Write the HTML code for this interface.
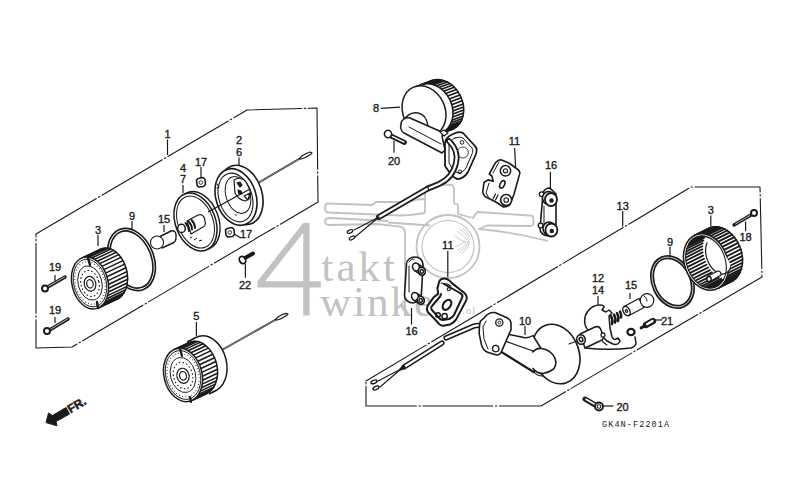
<!DOCTYPE html><html><head><meta charset="utf-8"><style>html,body{margin:0;padding:0;background:#fff;width:800px;height:500px;overflow:hidden;position:relative}</style></head><body><svg width="800" height="500" viewBox="0 0 800 500" style="position:absolute;left:0;top:0">
<rect width="800" height="500" fill="#fff"/>
<g fill="none" stroke="#c2c2c2" stroke-width="1.8" stroke-linejoin="round">
<circle cx="448" cy="246.5" r="31.5"/><circle cx="448" cy="246.5" r="26" stroke-width="1.2"/>
<path d="M457 231q7 5 12 10M460 229q6 5 10 11M463 228q4 4 7 9M457 251q7-4 12-10M459 253q7-5 11-12M462 254q5-5 8-11M455 236q6 4 11 7M455 247q6-3 11-6" stroke-width="0.8"/>
<path d="M328 203.5L372 205L376 202L408 202L418 199.5L425 199M425 213V191C425 186 430 184 437 184L452 185C454 186 454 188 454 190V203L458 205V214L473 218L477 212L530 215.5c2 0 3.5 1.5 3.5 3.5v3.5c0 2-1.5 3.5-3.5 3.5L487 225.5L479 229C502 231 525 235 548 241"/>
<path d="M328 203.5c-2 0-3 2-3 4.5s1 4.5 3 4.5L400 215.5L410 215L425 213"/>
<path d="M330 218c-3 0-5 1.5-5 3.5s2 3.5 5 3.5L377 224L400 226.6Q405 228 405 232V315M330 218L388 221M388 222.5L430 225.5"/>
</g>
<path fill="#c2c2c2" fill-rule="evenodd" d="M303.2 223H309.6V281.2H320.8V287.6H309.6V315.5H303.2V287.6H257.5V281.2ZM303.2 232.7V281.2H265.1Z"/>
<text x="321.5" y="281" font-family="Liberation Serif" font-size="43" fill="#c2c2c2" letter-spacing="3">takt</text>
<text x="320" y="316" font-family="Liberation Serif" font-size="43" fill="#c2c2c2" letter-spacing="2">winkel</text>
<text x="462" y="314" font-family="Liberation Serif" font-size="11" fill="#c2c2c2" letter-spacing="1">.nl</text>
<polyline points="36,234 247,110 317,108 318,202 72,347 36,348 36,234" fill="none" stroke="#1a1a1a" stroke-width="1.1" stroke-linejoin="round" stroke-linecap="round" stroke-dasharray="70 2.5 1.5 2.5"/>
<polyline points="366,381 691,187 760,187 762,277 541,406 366,406 366,381" fill="none" stroke="#1a1a1a" stroke-width="1.1" stroke-linejoin="round" stroke-linecap="round" stroke-dasharray="70 2.5 1.5 2.5"/>
<g font-family="Liberation Sans" fill="#1a1a1a">
</g>
<path d="M258 183L299 159" fill="none" stroke="#1a1a1a" stroke-width="2" stroke-linejoin="round" stroke-linecap="round" />
<path d="M259 182.4L299 159" fill="none" stroke="#fff" stroke-width="0.5" stroke-linejoin="round" stroke-linecap="round" />
<path d="M299 159l3-3c2-1.5 5-3 8-4l2 1l-1.5 1.5c-3 2-6 3.5-9 4.5z" fill="#fff" stroke="#1a1a1a" stroke-width="1.2" stroke-linejoin="round" stroke-linecap="round" />
<ellipse cx="241" cy="195" rx="21" ry="30.5" transform="rotate(-18 241 195)" fill="#fff" stroke="#1a1a1a" stroke-width="1.6" />
<ellipse cx="236" cy="197" rx="20" ry="29" transform="rotate(-18 236 197)" fill="#fff" stroke="#1a1a1a" stroke-width="1.6" />
<ellipse cx="235.5" cy="197.5" rx="16.5" ry="25" transform="rotate(-18 235.5 197.5)" fill="#fff" stroke="#1a1a1a" stroke-width="1.1" />
<ellipse cx="238" cy="195" rx="12" ry="19" transform="rotate(-18 238 195)" fill="none" stroke="#1a1a1a" stroke-width="1" />
<path d="M234 180c4-3 9-2 12 2l3 6c2 4 2 8 0 11l-4 2c-4-1-8-4-10-8z" fill="#fff" stroke="#1a1a1a" stroke-width="1.2" stroke-linejoin="round" stroke-linecap="round" />
<path d="M237 183l3-1l2 3l-2 2zM238 190l3 1l1 3l-3 0z" fill="#1a1a1a" stroke="#1a1a1a" stroke-width="1.1" stroke-linejoin="round" stroke-linecap="round" />
<path d="M244 196l6-3l-2 7z" fill="none" stroke="#1a1a1a" stroke-width="1.2" stroke-linejoin="round" stroke-linecap="round" />
<path d="M217 184l2 3l-2 1" fill="none" stroke="#1a1a1a" stroke-width="1.1" stroke-linejoin="round" stroke-linecap="round" />
<circle cx="236" cy="215" r="0.8" fill="#1a1a1a"/>
<ellipse cx="203" cy="218" rx="8" ry="12" transform="rotate(-21 203 218)" fill="#fff" stroke="#1a1a1a" stroke-width="1.4" />
<ellipse cx="198.5" cy="220.5" rx="20" ry="30" transform="rotate(-21 198.5 220.5)" fill="#fff" stroke="#1a1a1a" stroke-width="1.4" />
<ellipse cx="195.5" cy="222" rx="20" ry="30" transform="rotate(-21 195.5 222)" fill="#fff" stroke="#1a1a1a" stroke-width="1.5" />
<ellipse cx="195.5" cy="222" rx="17.5" ry="27" transform="rotate(-21 195.5 222)" fill="none" stroke="#1a1a1a" stroke-width="1" />
<path d="M187 221l11-6c3-1 5 0 6 2l1 4c1 3 0 5-2 6l-12 7z" fill="#fff" stroke="#1a1a1a" stroke-width="1.2" stroke-linejoin="round" stroke-linecap="round" />
<path d="M185.5 223c2 2 3.5 5 3.5 8M188.5 221.5c2 2 3.5 5 3.5 8M191.5 220c2 2 3.5 5 3.5 8" fill="none" stroke="#1a1a1a" stroke-width="1.9" stroke-linejoin="round" stroke-linecap="round" />
<ellipse cx="181.5" cy="228.4" rx="3.8" ry="4.2" transform="rotate(0 181.5 228.4)" fill="#fff" stroke="#1a1a1a" stroke-width="1.5" />
<path d="M190 238l2-1M194 240l3-2M199 241l3-1" stroke="#1a1a1a" stroke-width="1"/>
<line x1="208" y1="212" x2="250" y2="189" stroke="#1a1a1a" stroke-width="1.2" />
<path d="M159 237l12-6c3-1 5 1 5 4v3c0 2-1 4-3 5l-11 5" fill="#fff" stroke="#1a1a1a" stroke-width="1.4" stroke-linejoin="round" stroke-linecap="round" />
<circle cx="157" cy="242.5" r="6.5" fill="#fff" stroke="#1a1a1a" stroke-width="1.1"/>
<ellipse cx="131.5" cy="259.5" rx="21" ry="31" transform="rotate(-22 131.5 259.5)" fill="none" stroke="#1a1a1a" stroke-width="4.1" />
<ellipse cx="131.5" cy="259.5" rx="21" ry="31" transform="rotate(-22 131.5 259.5)" fill="none" stroke="#fff" stroke-width="0.9" />
<ellipse cx="109" cy="274" rx="18" ry="26.4" transform="rotate(-14 109 274)" fill="#fff" stroke="#1a1a1a" stroke-width="1.5" />
<polygon points="99,307.6 118,298.6 100,249.4 81,258.4" fill="#fff" stroke="none" stroke-width="0" stroke-linejoin="round" />
<line x1="99" y1="307.6" x2="118" y2="298.6" stroke="#1a1a1a" stroke-width="1.5" />
<line x1="81" y1="258.4" x2="100" y2="249.4" stroke="#1a1a1a" stroke-width="1.5" />
<path d="M107.9 280.6l19 -9M108.4 284.5l19 -9M108.6 288.3l19 -9M108.3 292l19 -9M107.6 295.6l19 -9M106.6 298.8l19 -9M105.1 301.7l19 -9M103.3 304.2l19 -9M101.3 306.2l19 -9M98.9 307.7l19 -9M83.6 257.4l19 -9M86.3 257l19 -9M89 257.2l19 -9M91.8 258l19 -9M94.6 259.4l19 -9M97.2 261.3l19 -9M99.7 263.6l19 -9M101.9 266.4l19 -9M103.9 269.6l19 -9M105.6 273.1l19 -9M106.9 276.7l19 -9" fill="none" stroke="#1a1a1a" stroke-width="1.5" stroke-linejoin="round" stroke-linecap="round" />
<ellipse cx="90" cy="283" rx="18" ry="26.4" transform="rotate(-14 90 283)" fill="#fff" stroke="#1a1a1a" stroke-width="1.5" />
<ellipse cx="90" cy="283" rx="16.2" ry="24.2" transform="rotate(-14 90 283)" fill="none" stroke="#1a1a1a" stroke-width="0.9" />
<ellipse cx="90" cy="283" rx="14.8" ry="21.6" transform="rotate(-14 90 283)" fill="none" stroke="#1a1a1a" stroke-width="1.1" stroke-dasharray="0.8 2.4"/>
<ellipse cx="90" cy="283" rx="11.9" ry="17.4" transform="rotate(-14 90 283)" fill="none" stroke="#1a1a1a" stroke-width="0.9" />
<ellipse cx="90" cy="283.5" rx="9" ry="13.2" transform="rotate(-14 90 283.5)" fill="none" stroke="#1a1a1a" stroke-width="1.1" stroke-dasharray="1.6 2.2"/>
<ellipse cx="90" cy="283.8" rx="5.8" ry="7.4" transform="rotate(-14 90 283.8)" fill="none" stroke="#1a1a1a" stroke-width="1.2" />
<ellipse cx="90" cy="283.8" rx="3.2" ry="4.2" transform="rotate(-14 90 283.8)" fill="none" stroke="#1a1a1a" stroke-width="1.2" />
<path d="M88 258l2 7M97 302l1 6" fill="none" stroke="#1a1a1a" stroke-width="2.5" stroke-linejoin="round" stroke-linecap="round" />
<path d="M198 178.5l5-1l2 2l0.5 5l-2 2l-5 0.5l-1.5-2l-0.5-5z" fill="#fff" stroke="#1a1a1a" stroke-width="1.6" stroke-linejoin="round" stroke-linecap="round" />
<circle cx="200.8" cy="182.5" r="1.8" fill="none" stroke="#1a1a1a" stroke-width="0.9"/>
<path d="M227 228.5l5-1l2 2l0.5 5l-2 2l-5 0.5l-1.5-2l-0.5-5z" fill="#fff" stroke="#1a1a1a" stroke-width="1.6" stroke-linejoin="round" stroke-linecap="round" />
<circle cx="229.8" cy="232.5" r="1.8" fill="none" stroke="#1a1a1a" stroke-width="0.9"/>
<path d="M245 258l8-4.5" fill="none" stroke="#1a1a1a" stroke-width="4" stroke-linejoin="round" stroke-linecap="round" />
<ellipse cx="242.5" cy="260" rx="3" ry="3.8" transform="rotate(-30 242.5 260)" fill="#fff" stroke="#1a1a1a" stroke-width="1.8" />
<path d="M46 288l19-11" fill="none" stroke="#1a1a1a" stroke-width="3.5" stroke-linejoin="round" stroke-linecap="round" />
<path d="M47.5 287l17-10" fill="none" stroke="#fff" stroke-width="0.7" stroke-linejoin="round" stroke-linecap="round" />
<ellipse cx="45" cy="288.5" rx="3" ry="3" transform="rotate(0 45 288.5)" fill="#fff" stroke="#1a1a1a" stroke-width="1.9" />
<path d="M48 331l20-12" fill="none" stroke="#1a1a1a" stroke-width="3.5" stroke-linejoin="round" stroke-linecap="round" />
<path d="M49.5 330l18-11" fill="none" stroke="#fff" stroke-width="0.7" stroke-linejoin="round" stroke-linecap="round" />
<ellipse cx="47" cy="331" rx="3" ry="3" transform="rotate(0 47 331)" fill="#fff" stroke="#1a1a1a" stroke-width="1.9" />
<path d="M221 350.5L275 320" fill="none" stroke="#1a1a1a" stroke-width="1.9" stroke-linejoin="round" stroke-linecap="round" />
<path d="M222 350L275 320" fill="none" stroke="#fff" stroke-width="0.5" stroke-linejoin="round" stroke-linecap="round" />
<path d="M275 320l3-3c2-1.5 5-3 8-3.6l2 0.6l-1.5 1.5c-3 2-6 3.5-9 4.5z" fill="#fff" stroke="#1a1a1a" stroke-width="1.2" stroke-linejoin="round" stroke-linecap="round" />
<ellipse cx="206" cy="364" rx="20.5" ry="28.5" transform="rotate(-14 206 364)" fill="#fff" stroke="#1a1a1a" stroke-width="1.5" />
<polygon points="208.9,394 216.9,390 195.1,338 187.1,342" fill="#fff" stroke="none" stroke-width="0" stroke-linejoin="round" />
<line x1="208.9" y1="394" x2="216.9" y2="390" stroke="#1a1a1a" stroke-width="1.5" />
<line x1="187.1" y1="342" x2="195.1" y2="338" stroke="#1a1a1a" stroke-width="1.5" />
<path d="" fill="none" stroke="#1a1a1a" stroke-width="0" stroke-linejoin="round" stroke-linecap="round" />
<ellipse cx="198" cy="368" rx="19" ry="27" transform="rotate(-14 198 368)" fill="#fff" stroke="#1a1a1a" stroke-width="1.5" />
<polygon points="192.3,400.2 207.3,393.2 188.7,342.8 173.7,349.8" fill="#fff" stroke="none" stroke-width="0" stroke-linejoin="round" />
<line x1="192.3" y1="400.2" x2="207.3" y2="393.2" stroke="#1a1a1a" stroke-width="1.5" />
<line x1="173.7" y1="349.8" x2="188.7" y2="342.8" stroke="#1a1a1a" stroke-width="1.5" />
<path d="M201.9 372.4l15 -7M202.4 376.3l15 -7M202.5 380.3l15 -7M202.2 384.1l15 -7M201.5 387.7l15 -7M200.3 391.1l15 -7M198.8 394.1l15 -7M196.9 396.6l15 -7M194.7 398.7l15 -7M192.2 400.2l15 -7M176.5 348.8l15 -7M179.3 348.4l15 -7M182.2 348.6l15 -7M185.1 349.4l15 -7M188 350.8l15 -7M190.8 352.7l15 -7M193.3 355.1l15 -7M195.7 357.9l15 -7M197.8 361.2l15 -7M199.5 364.7l15 -7M200.9 368.5l15 -7" fill="none" stroke="#1a1a1a" stroke-width="1.5" stroke-linejoin="round" stroke-linecap="round" />
<ellipse cx="183" cy="375" rx="19" ry="27" transform="rotate(-14 183 375)" fill="#fff" stroke="#1a1a1a" stroke-width="1.5" />
<ellipse cx="183" cy="375" rx="17.2" ry="24.8" transform="rotate(-14 183 375)" fill="none" stroke="#1a1a1a" stroke-width="0.9" />
<ellipse cx="183" cy="375" rx="15.6" ry="22.1" transform="rotate(-14 183 375)" fill="none" stroke="#1a1a1a" stroke-width="1.1" stroke-dasharray="0.8 2.4"/>
<ellipse cx="183" cy="375" rx="12.5" ry="17.8" transform="rotate(-14 183 375)" fill="none" stroke="#1a1a1a" stroke-width="0.9" />
<ellipse cx="183" cy="375.5" rx="9.5" ry="13.5" transform="rotate(-14 183 375.5)" fill="none" stroke="#1a1a1a" stroke-width="1.1" stroke-dasharray="1.6 2.2"/>
<ellipse cx="183" cy="375.8" rx="6.1" ry="7.6" transform="rotate(-14 183 375.8)" fill="none" stroke="#1a1a1a" stroke-width="1.2" />
<ellipse cx="183" cy="375.8" rx="3.4" ry="4.3" transform="rotate(-14 183 375.8)" fill="none" stroke="#1a1a1a" stroke-width="1.2" />
<path d="M180 349l2 7M190 397l1 5" fill="none" stroke="#1a1a1a" stroke-width="2.2" stroke-linejoin="round" stroke-linecap="round" />
<polygon points="46,422.6 48.5,413 52.5,415.5 66,407.5 69.5,414 56,421.5 57,425.8" fill="#1a1a1a" stroke="#1a1a1a" stroke-width="1" stroke-linejoin="round" />
<text x="0" y="0" font-family="Liberation Sans" font-weight="bold" font-size="12" fill="#1a1a1a" stroke="#1a1a1a" stroke-width="0.5" transform="translate(70.5 413.5) rotate(-31)">FR.</text>
<ellipse cx="442" cy="105" rx="20.5" ry="26.5" transform="rotate(-25 442 105)" fill="#fff" stroke="#1a1a1a" stroke-width="1.5" />
<polygon points="440.2,133.9 452.2,129.4 431.8,80.6 419.8,85.1" fill="#fff" stroke="none" stroke-width="0" stroke-linejoin="round" />
<line x1="440.2" y1="133.9" x2="452.2" y2="129.4" stroke="#1a1a1a" stroke-width="1.5" />
<line x1="419.8" y1="85.1" x2="431.8" y2="80.6" stroke="#1a1a1a" stroke-width="1.5" />
<path d="M449.2 102.3l12 -4.5M450.3 105.3l12 -4.5M451.1 108.4l12 -4.5M451.5 111.5l12 -4.5M451.7 114.5l12 -4.5M451.5 117.5l12 -4.5M451.1 120.4l12 -4.5M450.3 123.1l12 -4.5M449.2 125.6l12 -4.5M447.8 127.8l12 -4.5M446.2 129.9l12 -4.5M444.4 131.6l12 -4.5M442.3 133l12 -4.5M419.9 85l12 -4.5M422.3 84.3l12 -4.5M424.8 84l12 -4.5M427.4 84l12 -4.5M430 84.5l12 -4.5M432.6 85.3l12 -4.5M435.2 86.4l12 -4.5M437.7 87.9l12 -4.5M440.1 89.7l12 -4.5M442.3 91.7l12 -4.5M444.4 94.1l12 -4.5M446.3 96.6l12 -4.5M447.9 99.4l12 -4.5" fill="none" stroke="#1a1a1a" stroke-width="1.6" stroke-linejoin="round" stroke-linecap="round" />
<ellipse cx="431" cy="109" rx="21" ry="26" transform="rotate(-25 431 109)" fill="#fff" stroke="#1a1a1a" stroke-width="1.5" />
<polygon points="432.9,135.4 439.9,133.4 422.1,84.6 415.1,86.6" fill="#fff" stroke="none" stroke-width="0" stroke-linejoin="round" />
<line x1="432.9" y1="135.4" x2="439.9" y2="133.4" stroke="#1a1a1a" stroke-width="1.5" />
<line x1="415.1" y1="86.6" x2="422.1" y2="84.6" stroke="#1a1a1a" stroke-width="1.5" />
<path d="" fill="none" stroke="#1a1a1a" stroke-width="0" stroke-linejoin="round" stroke-linecap="round" />
<ellipse cx="424" cy="111" rx="21" ry="26" transform="rotate(-25 424 111)" fill="#fff" stroke="#1a1a1a" stroke-width="1.5" />
<path d="M404 121c2-6 8-9 14-8c6 1 9 6 10 13" fill="#fff" stroke="#1a1a1a" stroke-width="1.4" stroke-linejoin="round" stroke-linecap="round" />
<path d="M401 124c0-4 4-7 9-6l34 15l-2 3l3 14l-3 3l-38-20c-3-2-4-5-3-9z" fill="#fff" stroke="#1a1a1a" stroke-width="1.5" stroke-linejoin="round" stroke-linecap="round" />
<path d="M409 127l32 17" fill="none" stroke="#1a1a1a" stroke-width="1" stroke-linejoin="round" stroke-linecap="round" />
<path d="M440 132l4-2l4 3l-4 3z" fill="#fff" stroke="#1a1a1a" stroke-width="1.1" stroke-linejoin="round" stroke-linecap="round" />
<path d="M453 134c4-2 8-2 10-1l12 13c2 2 2 5 1 8l-8 18c-3 5-7 7-11 7l-5-3l-7-10v-22c0-4 3-8 8-10z" fill="#fff" stroke="#1a1a1a" stroke-width="1.8" stroke-linejoin="round" stroke-linecap="round" />
<path d="M455 138c3-1 6-1 8 0l9 10c1 2 1 4 0 6l-6 14c-2 3-5 5-8 5l-4-2l-5-8v-17c0-3 2-6 6-8z" fill="none" stroke="#1a1a1a" stroke-width="1" stroke-linejoin="round" stroke-linecap="round" />
<circle cx="462.8" cy="152.5" r="5.5" fill="none" stroke="#1a1a1a" stroke-width="0.8"/>
<circle cx="462" cy="142.4" r="1.8" fill="none" stroke="#1a1a1a" stroke-width="1"/>
<circle cx="460" cy="171.8" r="1.8" fill="none" stroke="#1a1a1a" stroke-width="1"/>
<path d="M449 141c6 6 9 14 7 22c-2 9-8 17-17 21l-12 5l-48 28" fill="none" stroke="#1a1a1a" stroke-width="5.8" stroke-linejoin="round" stroke-linecap="round" />
<path d="M449 141c6 6 9 14 7 22c-2 9-8 17-17 21l-12 5l-48 28" fill="none" stroke="#fff" stroke-width="2.4" stroke-linejoin="round" stroke-linecap="round" />
<path d="M427 186l2 4" fill="none" stroke="#1a1a1a" stroke-width="1.2" stroke-linejoin="round" stroke-linecap="round" />
<polyline points="379,217 354,230" fill="none" stroke="#1a1a1a" stroke-width="1.1" stroke-linejoin="round" stroke-linecap="round" />
<polyline points="379,217 355,237" fill="none" stroke="#1a1a1a" stroke-width="1.1" stroke-linejoin="round" stroke-linecap="round" />
<ellipse cx="350" cy="231.5" rx="3" ry="1.5" transform="rotate(-25 350 231.5)" fill="#fff" stroke="#1a1a1a" stroke-width="1.2" />
<ellipse cx="352" cy="238" rx="3" ry="1.5" transform="rotate(-30 352 238)" fill="#fff" stroke="#1a1a1a" stroke-width="1.2" />
<path d="M391 136l13.5 6.5" fill="none" stroke="#1a1a1a" stroke-width="4.8" stroke-linejoin="round" stroke-linecap="round" />
<path d="M392 136.4l12 5.8" fill="none" stroke="#fff" stroke-width="1.3" stroke-linejoin="round" stroke-linecap="round" />
<ellipse cx="388" cy="134" rx="3.6" ry="3.6" transform="rotate(20 388 134)" fill="#fff" stroke="#1a1a1a" stroke-width="1.6" />
<path d="M496.4 161.7c1.5-1.5 3-2 4.6-2l7.8 3.3l9.1 6.5c1.5 1 2 2.5 1.9 3.9l-5.8 20.8l-4 10.3c-2 2-4 2.5-6.4 2.5l-7.8-5l-10.4-5.2c-2-1.5-2.6-3-2.6-5.2l1.2-9.1l4-2.6l5.2 1.3l-1.3-5.2l-2.6-2l5.2-9.7z" fill="#fff" stroke="#1a1a1a" stroke-width="1.6" stroke-linejoin="round" stroke-linecap="round" />
<path d="M499 162l-6 11M489 183l-3 10l3 5M500 201l4 5" fill="none" stroke="#1a1a1a" stroke-width="1" stroke-linejoin="round" stroke-linecap="round" />
<circle cx="505.5" cy="170.8" r="5.2" fill="#fff" stroke="#1a1a1a" stroke-width="1.5"/><circle cx="505.5" cy="170.8" r="2.1" fill="none" stroke="#1a1a1a" stroke-width="1.1"/>
<circle cx="506.2" cy="200" r="5.5" fill="#fff" stroke="#1a1a1a" stroke-width="1.5"/><circle cx="506.2" cy="200" r="2.3" fill="none" stroke="#1a1a1a" stroke-width="1.1"/>
<ellipse cx="502.3" cy="184.4" rx="2.2" ry="4" transform="rotate(25 502.3 184.4)" fill="#fff" stroke="#1a1a1a" stroke-width="1.6" />
<path d="M493 199l2.5-5M495.5 200l2.5-5" fill="none" stroke="#1a1a1a" stroke-width="1.2" stroke-linejoin="round" stroke-linecap="round" />
<path d="M543 193c1-3 4-5 7-5l6 6v34c0 4-3 8-7 8c-5 0-9-3-9-7z" fill="#fff" stroke="#1a1a1a" stroke-width="1.6" stroke-linejoin="round" stroke-linecap="round" />
<circle cx="541.7" cy="194.3" r="2.4" fill="#fff" stroke="#1a1a1a" stroke-width="1.3"/><circle cx="540.6" cy="225.5" r="2.4" fill="#fff" stroke="#1a1a1a" stroke-width="1.3"/>
<ellipse cx="548.5" cy="198" rx="6" ry="6.5" transform="rotate(0 548.5 198)" fill="#fff" stroke="#1a1a1a" stroke-width="1.6" />
<ellipse cx="551" cy="199.5" rx="6" ry="6.5" transform="rotate(0 551 199.5)" fill="#fff" stroke="#1a1a1a" stroke-width="1.8" />
<circle cx="551.5" cy="200.5" r="2.2" fill="#1a1a1a"/>
<ellipse cx="549" cy="228.5" rx="6" ry="6.5" transform="rotate(0 549 228.5)" fill="#fff" stroke="#1a1a1a" stroke-width="1.6" />
<ellipse cx="551.4" cy="230" rx="6" ry="6.5" transform="rotate(0 551.4 230)" fill="#fff" stroke="#1a1a1a" stroke-width="1.8" />
<circle cx="551.8" cy="231" r="2.2" fill="#1a1a1a"/>
<path d="M544 206v18" fill="none" stroke="#1a1a1a" stroke-width="1" stroke-linejoin="round" stroke-linecap="round" />
<path d="M406.5 264c0-4 4-7 8.5-7c4.5 0 8 3 8 7.5l-1.5 28c0 5-3 9.5-8 10.5c-5 0-9-3-9-7.5z" fill="#fff" stroke="#1a1a1a" stroke-width="1.6" stroke-linejoin="round" stroke-linecap="round" />
<path d="M409 262c1-2 3-3 5-3M409 266v26" fill="none" stroke="#1a1a1a" stroke-width="1" stroke-linejoin="round" stroke-linecap="round" />
<ellipse cx="421.8" cy="271.2" rx="3.4" ry="4" transform="rotate(-20 421.8 271.2)" fill="#fff" stroke="#1a1a1a" stroke-width="1.5" />
<polygon points="414.4,270.3 420.2,274.5 423.4,267.9 417.6,263.7" fill="#fff" stroke="none" stroke-width="0" stroke-linejoin="round" />
<line x1="414.4" y1="270.3" x2="420.2" y2="274.5" stroke="#1a1a1a" stroke-width="1.5" />
<line x1="417.6" y1="263.7" x2="423.4" y2="267.9" stroke="#1a1a1a" stroke-width="1.5" />
<path d="" fill="none" stroke="#1a1a1a" stroke-width="0" stroke-linejoin="round" stroke-linecap="round" />
<ellipse cx="416" cy="267" rx="3.4" ry="4" transform="rotate(-20 416 267)" fill="#fff" stroke="#1a1a1a" stroke-width="1.5" />
<ellipse cx="421.8" cy="271.2" rx="3.4" ry="4" transform="rotate(-20 421.8 271.2)" fill="#fff" stroke="#1a1a1a" stroke-width="1.6" />
<ellipse cx="421.8" cy="271.4" rx="1.6" ry="1.9" transform="rotate(-20 421.8 271.4)" fill="#fff" stroke="#1a1a1a" stroke-width="1.4" />
<ellipse cx="420.7" cy="300.3" rx="3.4" ry="4" transform="rotate(-20 420.7 300.3)" fill="#fff" stroke="#1a1a1a" stroke-width="1.5" />
<polygon points="413.5,299.9 419.2,303.7 422.2,296.9 416.5,293.1" fill="#fff" stroke="none" stroke-width="0" stroke-linejoin="round" />
<line x1="413.5" y1="299.9" x2="419.2" y2="303.7" stroke="#1a1a1a" stroke-width="1.5" />
<line x1="416.5" y1="293.1" x2="422.2" y2="296.9" stroke="#1a1a1a" stroke-width="1.5" />
<path d="" fill="none" stroke="#1a1a1a" stroke-width="0" stroke-linejoin="round" stroke-linecap="round" />
<ellipse cx="415" cy="296.5" rx="3.4" ry="4" transform="rotate(-20 415 296.5)" fill="#fff" stroke="#1a1a1a" stroke-width="1.5" />
<ellipse cx="420.7" cy="300.3" rx="3.4" ry="4" transform="rotate(-20 420.7 300.3)" fill="#fff" stroke="#1a1a1a" stroke-width="1.6" />
<ellipse cx="420.7" cy="300.5" rx="1.6" ry="1.9" transform="rotate(-20 420.7 300.5)" fill="#fff" stroke="#1a1a1a" stroke-width="1.4" />
<path d="M439.2 281.4c1-2 3-3 5-3c2 0 4 1 5 2l3 3l8.4 6.6c3 2 5 4 5.6 5.4c1 2 0.5 4 0 5l-10 19c-2 3-4 4-6 5l-7 1.4c-2 0-4-1-6-4l-9.6-10c-1-2-1-4 0-6l6-8.4c2-2 4-3 4.6-3.6c0-2-1-4-0.6-6z" fill="#fff" stroke="#1a1a1a" stroke-width="2" stroke-linejoin="round" stroke-linecap="round" />
<path d="M444 284l16 9c2 1 3 3 2 5l-8 17c-1 2-3 3-5 4l-6 1c-2 0-3-1-4-2l-7-8c-1-1-1-3 0-4l6-7c2-2 3-3 3-5" fill="none" stroke="#1a1a1a" stroke-width="2" stroke-linejoin="round" stroke-linecap="round" />
<path d="M441 283l6 1l4 2" fill="none" stroke="#1a1a1a" stroke-width="1.1" stroke-linejoin="round" stroke-linecap="round" />
<ellipse cx="447" cy="304.8" rx="3.6" ry="5.5" transform="rotate(35 447 304.8)" fill="#fff" stroke="#1a1a1a" stroke-width="2.2" />
<circle cx="448.8" cy="289.2" r="1.6" fill="none" stroke="#1a1a1a" stroke-width="1.1"/><circle cx="438" cy="315" r="2.3" fill="none" stroke="#1a1a1a" stroke-width="1.5"/><circle cx="444.6" cy="316.2" r="2.6" fill="none" stroke="#1a1a1a" stroke-width="1.5"/>
<path d="M484 326c-4-1-7-1-10 0l-28 12" fill="none" stroke="#1a1a1a" stroke-width="5.2" stroke-linejoin="round" stroke-linecap="round" />
<path d="M484 326c-4-1-7-1-10 0l-28 12" fill="none" stroke="#fff" stroke-width="2.2" stroke-linejoin="round" stroke-linecap="round" />
<path d="M442 343l-38 24" fill="none" stroke="#1a1a1a" stroke-width="5.2" stroke-linejoin="round" stroke-linecap="round" />
<path d="M442 343l-38 24" fill="none" stroke="#fff" stroke-width="2.2" stroke-linejoin="round" stroke-linecap="round" />
<path d="M404 367l-3 2" fill="none" stroke="#1a1a1a" stroke-width="3.1" stroke-linejoin="round" stroke-linecap="round" />
<polyline points="401,369 378,381" fill="none" stroke="#1a1a1a" stroke-width="1.1" stroke-linejoin="round" stroke-linecap="round" />
<polyline points="401,369 380,387" fill="none" stroke="#1a1a1a" stroke-width="1.1" stroke-linejoin="round" stroke-linecap="round" />
<ellipse cx="374" cy="381.8" rx="3.2" ry="1.6" transform="rotate(-20 374 381.8)" fill="#fff" stroke="#1a1a1a" stroke-width="1.4" />
<ellipse cx="376" cy="388" rx="3.2" ry="1.6" transform="rotate(-25 376 388)" fill="#fff" stroke="#1a1a1a" stroke-width="1.4" />
<ellipse cx="556" cy="354" rx="23" ry="30.5" transform="rotate(-20 556 354)" fill="#fff" stroke="#1a1a1a" stroke-width="1.6" />
<path d="M491 331l33 6.5c3 0.5 6 0 9-2l8 13l-7 24l-45-28c-2-3-2-9 2-13.5z" fill="#fff" stroke="#1a1a1a" stroke-width="1.5" stroke-linejoin="round" stroke-linecap="round" />
<path d="M491 336L536 352" fill="none" stroke="#1a1a1a" stroke-width="1.2" stroke-linejoin="round" stroke-linecap="round" />
<path d="M489.5 344.5L534 372" fill="none" stroke="#1a1a1a" stroke-width="2" stroke-linejoin="round" stroke-linecap="round" />
<path d="M532.6 352c3-3 6-4 9-3.5c5 0.5 11 4 13.5 10c2 5 0 10-3 11.5c-3 2-6 3-9 3.5c-4 0-8-2-10-5" fill="#fff" stroke="#1a1a1a" stroke-width="1.6" stroke-linejoin="round" stroke-linecap="round" />
<path d="M534 372c2 3 5 4 9 4" fill="none" stroke="#1a1a1a" stroke-width="1.2" stroke-linejoin="round" stroke-linecap="round" />
<path d="M484 318c3-4 7-6 11-5.4l12.4 5.4c2 1 3.6 3 3.6 5.4v6.3l-9 20.7c-1 3-3 4.6-5.4 4.6l-9-2.8c-3-1-5-4-6-7l-2.4-11.4c0-4 0-9 1.2-12.6z" fill="#fff" stroke="#1a1a1a" stroke-width="1.6" stroke-linejoin="round" stroke-linecap="round" />
<path d="M486 321l-3 6l1 12l4 10" fill="none" stroke="#1a1a1a" stroke-width="1" stroke-linejoin="round" stroke-linecap="round" />
<circle cx="499.3" cy="322.5" r="3.6" fill="#fff" stroke="#1a1a1a" stroke-width="1.3"/><circle cx="499.3" cy="322.5" r="1.4" fill="none" stroke="#1a1a1a" stroke-width="0.9"/>
<circle cx="495.7" cy="348.6" r="3.2" fill="#fff" stroke="#1a1a1a" stroke-width="1.3"/>
<path d="M588 330c-5-6-4-14 0-19c3-4 8-6 12-6c3 0 4 1 4 2l-2 3l4 2l3-2l3 3l-3 3l1 12l2 9c1 2 3 3 4 2l2-1l2 3c-1 3-4 4-7 3l-6-3l-3-3z" fill="#fff" stroke="#1a1a1a" stroke-width="1.5" stroke-linejoin="round" stroke-linecap="round" />
<path d="M600 334l3 8l4 3" fill="none" stroke="#1a1a1a" stroke-width="1.1" stroke-linejoin="round" stroke-linecap="round" />
<path d="M580 334l15-7c3-1 5 0 6 3l2 5c1 3 0 5-3 6l-15 7z" fill="#fff" stroke="#1a1a1a" stroke-width="1.5" stroke-linejoin="round" stroke-linecap="round" />
<ellipse cx="581" cy="339.5" rx="4.2" ry="4.8" transform="rotate(-20 581 339.5)" fill="#fff" stroke="#1a1a1a" stroke-width="1.6" />
<ellipse cx="581" cy="339.5" rx="1.8" ry="2.2" transform="rotate(-20 581 339.5)" fill="#fff" stroke="#1a1a1a" stroke-width="1.5" />
<ellipse cx="603" cy="335" rx="2" ry="2.2" transform="rotate(0 603 335)" fill="#fff" stroke="#1a1a1a" stroke-width="1.2" />
<path d="M611 316c1 2 2 5 1 8M614 314.5c1 2 2 5 1 8M617 313c1 2 2 5 1 8M620 311.5c1 2 1.5 4 1 6" fill="none" stroke="#1a1a1a" stroke-width="2.5" stroke-linejoin="round" stroke-linecap="round" />
<path d="M577 341l-8 3" fill="none" stroke="#1a1a1a" stroke-width="1.2" stroke-linejoin="round" stroke-linecap="round" />
<path d="M585 348c15 1.5 32 1.5 46 0c3-1 5-3 5-5l-1-6" fill="none" stroke="#1a1a1a" stroke-width="1.5" stroke-linejoin="round" stroke-linecap="round" />
<ellipse cx="631" cy="332" rx="3.6" ry="3.2" transform="rotate(0 631 332)" fill="#fff" stroke="#1a1a1a" stroke-width="2.2" />
<path d="M624 306.5l15-8l5 9l-15 8z" fill="#fff" stroke="#1a1a1a" stroke-width="1.4" stroke-linejoin="round" stroke-linecap="round" />
<ellipse cx="626.5" cy="311" rx="3.2" ry="5" transform="rotate(-28 626.5 311)" fill="#fff" stroke="#1a1a1a" stroke-width="1.5" />
<ellipse cx="626.5" cy="311" rx="1" ry="1.5" transform="rotate(-28 626.5 311)" fill="#fff" stroke="#1a1a1a" stroke-width="1.2" />
<circle cx="647" cy="300.5" r="6.8" fill="#fff" stroke="#1a1a1a" stroke-width="1.2"/>
<path d="M644 296c2 1 3 3 3 5" fill="none" stroke="#1a1a1a" stroke-width="1" stroke-linejoin="round" stroke-linecap="round" />
<path d="M641 328l5-3" fill="none" stroke="#1a1a1a" stroke-width="2.8" stroke-linejoin="round" stroke-linecap="round" />
<path d="M646 325l7-4" fill="none" stroke="#1a1a1a" stroke-width="6.2" stroke-linejoin="round" stroke-linecap="round" />
<path d="M647 324.2l5.5-3.2" fill="none" stroke="#fff" stroke-width="2.2" stroke-linejoin="round" stroke-linecap="round" />
<ellipse cx="672.5" cy="282" rx="19" ry="26" transform="rotate(-25 672.5 282)" fill="none" stroke="#1a1a1a" stroke-width="4.2" />
<ellipse cx="672.5" cy="282" rx="19" ry="26" transform="rotate(-25 672.5 282)" fill="none" stroke="#fff" stroke-width="0.7" />
<ellipse cx="720" cy="255" rx="21.5" ry="29" transform="rotate(-20 720 255)" fill="#fff" stroke="#1a1a1a" stroke-width="1.5" />
<polygon points="718,288.3 732,281.3 708,228.7 694,235.7" fill="#fff" stroke="none" stroke-width="0" stroke-linejoin="round" />
<line x1="718" y1="288.3" x2="732" y2="281.3" stroke="#1a1a1a" stroke-width="1.5" />
<line x1="694" y1="235.7" x2="708" y2="228.7" stroke="#1a1a1a" stroke-width="1.5" />
<path d="M726.8 256.3l14 -7M727.7 259.7l14 -7M728.2 263.1l14 -7M728.5 266.5l14 -7M728.4 269.8l14 -7M728 273l14 -7M727.3 276.1l14 -7M726.3 278.9l14 -7M724.9 281.5l14 -7M723.3 283.8l14 -7M721.5 285.8l14 -7M719.4 287.5l14 -7M694.9 235.2l14 -7M697.3 234.4l14 -7M699.9 233.9l14 -7M702.5 233.8l14 -7M705.2 234.1l14 -7M708 234.9l14 -7M710.7 236l14 -7M713.3 237.5l14 -7M715.8 239.4l14 -7M718.2 241.6l14 -7M720.4 244.1l14 -7M722.3 246.9l14 -7M724.1 249.9l14 -7M725.6 253l14 -7" fill="none" stroke="#1a1a1a" stroke-width="1.8" stroke-linejoin="round" stroke-linecap="round" />
<ellipse cx="706" cy="262" rx="21.5" ry="29" transform="rotate(-20 706 262)" fill="#fff" stroke="#1a1a1a" stroke-width="1.5" />
<clipPath id="lc"><ellipse cx="706" cy="262" rx="19.5" ry="27" transform="rotate(-20 706 262)"/></clipPath>
<path d="M716.3 286.9l16.8 -8.4M714.1 287.7l16.8 -8.4M711.8 288.2l16.8 -8.4M709.4 288.2l16.8 -8.4M706.9 287.9l16.8 -8.4M704.4 287.2l16.8 -8.4M702 286.1l16.8 -8.4M699.6 284.7l16.8 -8.4M697.3 282.9l16.8 -8.4M695.1 280.8l16.8 -8.4M693.1 278.5l16.8 -8.4M691.3 275.9l16.8 -8.4M689.6 273.1l16.8 -8.4M688.3 270.2l16.8 -8.4M687.2 267.1l16.8 -8.4M686.3 264l16.8 -8.4M685.8 260.8l16.8 -8.4M685.5 257.7l16.8 -8.4M685.5 254.6l16.8 -8.4M685.9 251.6l16.8 -8.4M686.5 248.8l16.8 -8.4M687.4 246.1l16.8 -8.4M688.6 243.7l16.8 -8.4M690.1 241.6l16.8 -8.4M691.7 239.8l16.8 -8.4M693.6 238.2l16.8 -8.4" fill="none" stroke="#1a1a1a" stroke-width="1.8" stroke-linejoin="round" stroke-linecap="round" clip-path="url(#lc)"/>
<ellipse cx="718.6" cy="255.7" rx="12" ry="19" transform="rotate(-20 718.6 255.7)" fill="#fff" stroke="#1a1a1a" stroke-width="1.2" clip-path="url(#lc)"/>
<ellipse cx="706" cy="262" rx="19.3" ry="26.8" transform="rotate(-20 706 262)" fill="none" stroke="#1a1a1a" stroke-width="1.1" />
<path d="M708 276l10-5c2 0 3 2 3 4l-10 6z" fill="#fff" stroke="#1a1a1a" stroke-width="1.2" stroke-linejoin="round" stroke-linecap="round" />
<ellipse cx="709" cy="279" rx="2.2" ry="2.6" transform="rotate(0 709 279)" fill="#fff" stroke="#1a1a1a" stroke-width="1.5" />
<path d="M734 225l17-10" fill="none" stroke="#1a1a1a" stroke-width="3.2" stroke-linejoin="round" stroke-linecap="round" />
<path d="M735.5 224l14.5-8.5" fill="none" stroke="#fff" stroke-width="0.7" stroke-linejoin="round" stroke-linecap="round" />
<ellipse cx="754" cy="213" rx="3" ry="3" transform="rotate(0 754 213)" fill="#fff" stroke="#1a1a1a" stroke-width="1.9" />
<path d="M585 399l11 6.5" fill="none" stroke="#1a1a1a" stroke-width="5" stroke-linejoin="round" stroke-linecap="round" />
<path d="M586 399.2l9.5 5.6" fill="none" stroke="#fff" stroke-width="1.6" stroke-linejoin="round" stroke-linecap="round" />
<ellipse cx="599" cy="406.5" rx="4" ry="4" transform="rotate(0 599 406.5)" fill="#fff" stroke="#1a1a1a" stroke-width="1.9" />
<ellipse cx="599" cy="406.5" rx="1.8" ry="1.8" transform="rotate(0 599 406.5)" fill="none" stroke="#1a1a1a" stroke-width="1.1" />
<g font-family="Liberation Sans" fill="#1a1a1a" stroke="#1a1a1a" stroke-width="0.35">
<text x="167.5" y="138" font-size="11" text-anchor="middle">1</text>
<text x="239" y="144" font-size="11" text-anchor="middle">2</text>
<text x="239" y="156" font-size="11" text-anchor="middle">6</text>
<text x="201" y="166" font-size="11" text-anchor="middle">17</text>
<text x="183" y="172" font-size="11" text-anchor="middle">4</text>
<text x="183" y="183" font-size="11" text-anchor="middle">7</text>
<text x="246" y="237.5" font-size="11" text-anchor="middle">17</text>
<text x="164" y="223" font-size="11" text-anchor="middle">15</text>
<text x="132" y="220" font-size="11" text-anchor="middle">9</text>
<text x="98" y="233.5" font-size="11" text-anchor="middle">3</text>
<text x="55" y="271" font-size="11" text-anchor="middle">19</text>
<text x="55" y="314" font-size="11" text-anchor="middle">19</text>
<text x="245" y="289" font-size="11" text-anchor="middle">22</text>
<text x="196.4" y="319.6" font-size="11" text-anchor="middle">5</text>
<text x="376" y="112.4" font-size="11" text-anchor="middle">8</text>
<text x="394" y="165.2" font-size="11" text-anchor="middle">20</text>
<text x="514.4" y="145.3" font-size="11" text-anchor="middle">11</text>
<text x="551" y="169.3" font-size="11" text-anchor="middle">16</text>
<text x="447.8" y="249.4" font-size="11" text-anchor="middle">11</text>
<text x="411.5" y="335.2" font-size="11" text-anchor="middle">16</text>
<text x="622.7" y="209.7" font-size="11" text-anchor="middle">13</text>
<text x="710.8" y="213.6" font-size="11" text-anchor="middle">3</text>
<text x="745.6" y="241.2" font-size="11" text-anchor="middle">18</text>
<text x="670" y="246" font-size="11" text-anchor="middle">9</text>
<text x="598" y="282.4" font-size="11" text-anchor="middle">12</text>
<text x="598" y="294.4" font-size="11" text-anchor="middle">14</text>
<text x="631" y="289" font-size="11" text-anchor="middle">15</text>
<text x="667" y="325" font-size="11" text-anchor="middle">21</text>
<text x="525" y="325" font-size="11" text-anchor="middle">10</text>
<text x="622.5" y="410.7" font-size="11" text-anchor="middle">20</text>
</g>
<line x1="167.5" y1="139.5" x2="167.5" y2="155" stroke="#1a1a1a" stroke-width="1.2" />
<line x1="239" y1="157.5" x2="239" y2="166" stroke="#1a1a1a" stroke-width="1.2" />
<line x1="201" y1="167" x2="201" y2="178" stroke="#1a1a1a" stroke-width="1.2" />
<line x1="183" y1="185" x2="183" y2="193" stroke="#1a1a1a" stroke-width="1.2" />
<line x1="98" y1="235" x2="98" y2="246" stroke="#1a1a1a" stroke-width="1.2" />
<line x1="132" y1="221" x2="132" y2="230" stroke="#1a1a1a" stroke-width="1.2" />
<line x1="164" y1="225" x2="164" y2="232" stroke="#1a1a1a" stroke-width="1.2" />
<line x1="55" y1="275" x2="55" y2="281.5" stroke="#1a1a1a" stroke-width="1.2" />
<line x1="55" y1="317" x2="55" y2="323" stroke="#1a1a1a" stroke-width="1.2" />
<line x1="245.4" y1="263.4" x2="245.4" y2="277.8" stroke="#1a1a1a" stroke-width="1.2" />
<line x1="196.4" y1="322" x2="196.4" y2="336" stroke="#1a1a1a" stroke-width="1.2" />
<line x1="380.8" y1="108.4" x2="400" y2="107.2" stroke="#1a1a1a" stroke-width="1.2" />
<line x1="394" y1="140.8" x2="394" y2="152.8" stroke="#1a1a1a" stroke-width="1.2" />
<line x1="514.6" y1="148" x2="515.6" y2="167" stroke="#1a1a1a" stroke-width="1.2" />
<line x1="550.4" y1="171.8" x2="550.4" y2="189.8" stroke="#1a1a1a" stroke-width="1.2" />
<line x1="447.8" y1="250.9" x2="447.8" y2="277.3" stroke="#1a1a1a" stroke-width="1.2" />
<line x1="411.5" y1="308" x2="411.5" y2="324.6" stroke="#1a1a1a" stroke-width="1.2" />
<line x1="622.7" y1="211" x2="622.7" y2="226.4" stroke="#1a1a1a" stroke-width="1.2" />
<line x1="710.8" y1="215.6" x2="710.8" y2="226.4" stroke="#1a1a1a" stroke-width="1.2" />
<line x1="745.6" y1="221.6" x2="745.6" y2="231.2" stroke="#1a1a1a" stroke-width="1.2" />
<line x1="670" y1="246.8" x2="670" y2="257.6" stroke="#1a1a1a" stroke-width="1.2" />
<line x1="598" y1="296" x2="598" y2="305" stroke="#1a1a1a" stroke-width="1.2" />
<line x1="630" y1="293" x2="630" y2="299" stroke="#1a1a1a" stroke-width="1.2" />
<line x1="654" y1="320" x2="662" y2="320" stroke="#1a1a1a" stroke-width="1.2" />
<line x1="525" y1="326" x2="525" y2="335" stroke="#1a1a1a" stroke-width="1.2" />
<line x1="602" y1="406" x2="613.5" y2="406" stroke="#1a1a1a" stroke-width="1.2" />
<line x1="241" y1="238" x2="234" y2="234" stroke="#1a1a1a" stroke-width="1.2" />
<text x="602" y="427" font-family="Liberation Mono" font-size="8.5" letter-spacing="1.1" fill="#1a1a1a">GK4N-F2201A</text>
</svg></body></html>
